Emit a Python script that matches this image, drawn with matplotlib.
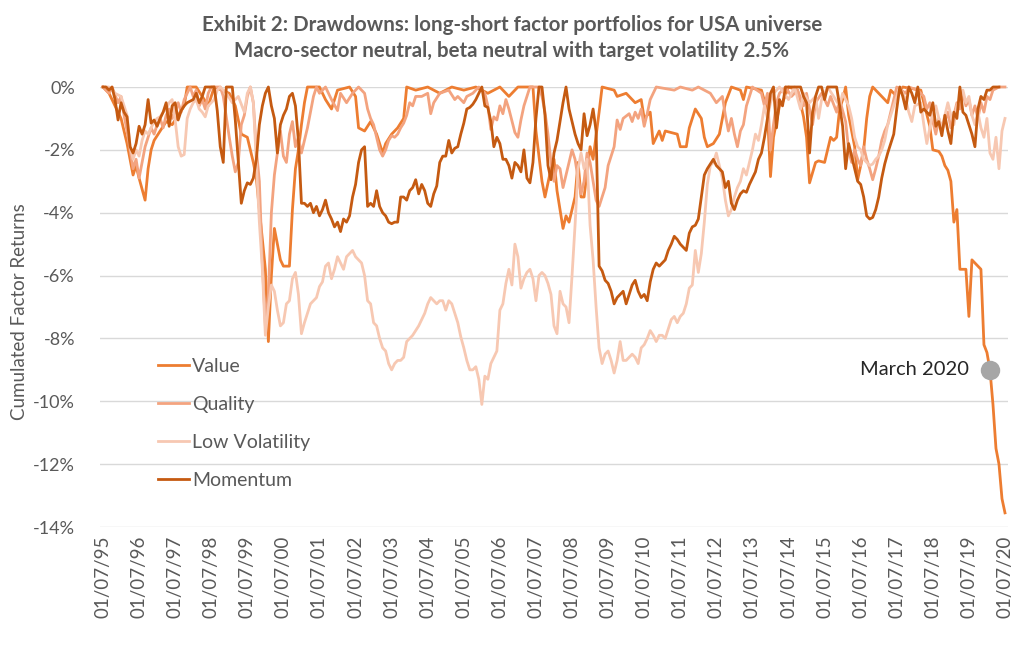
import matplotlib
matplotlib.use('Agg')
import matplotlib.pyplot as plt
import numpy as np

plt.rcParams['font.family'] = ['Lato', 'DejaVu Sans']

# months since 01/07/1995, drawdown in %
value_months = [0, 2, 4, 6, 8, 10, 11, 12, 14, 15, 16, 17, 19, 21, 23, 25, 27, 28, 31, 33, 35, 37,
                42, 44, 46, 48, 50, 51, 52, 54, 55, 56, 57, 59, 60, 62, 63, 64, 65, 66, 67, 68,
                72, 74, 76, 78, 82, 84, 85, 87, 89, 91, 93, 94, 96, 98, 100, 101, 104, 108, 112,
                116, 120, 124, 128, 132, 135, 138, 143, 144, 146, 147, 149, 150, 151, 153, 154,
                155, 157, 158, 159, 160, 162, 163, 165, 166, 170, 171, 174, 177, 179, 180, 182,
                183, 185, 186, 187, 189, 191, 192, 194, 195, 197, 199, 200, 201, 203, 205, 207,
                209, 212, 213, 214, 219, 221, 222, 223, 225, 226, 228, 231, 233, 234, 235, 237,
                238, 240, 241, 242, 243, 244, 245, 246, 247, 248, 250, 251, 252, 253, 254, 255,
                256, 259, 261, 262, 264, 266, 272, 273, 275, 276, 278, 279, 280, 281, 282, 283,
                284, 285, 287, 288, 289, 291, 292, 293, 294, 295, 296, 297, 298, 299, 300]
value_ret = [0, -0.2, -0.6, -1.0, -1.8, -2.8, -2.5, -2.9, -3.6, -2.6, -2.0, -1.7, -1.4, -1.1, -1.2,
             -0.9, -0.6, 0, 0, -0.3, -0.6, 0,
             -0.2, -0.6, -1.5, -1.6, -2.4, -2.9, -3.9, -5.8, -8.1, -6.0, -4.5, -5.5, -5.7, -5.7,
             -3.9, -2.6, -2.0, -1.2, -0.5, 0,
             0, -0.4, -0.7, -0.1, 0, -0.3, -1.3, -1.4, -1.1, -1.5, -2.1, -1.8, -1.5, -1.3, -1.0,
             0, -0.1, 0, -0.2,
             0, -0.1, 0, -0.2, 0, -0.3, 0, 0, -1.4, -3.0, -3.5, -2.6, -2.3, -3.3, -4.5, -4.1,
             -4.3, -3.5, -2.4, -3.5, -3.5, -1.9, -2.3, -0.8, 0, -0.1, -0.3, -0.2, -0.5, -0.4, -1.0, -0.8,
             -1.8, -1.4, -1.7, -1.4, -1.45, -1.5, -1.9, -1.9, -1.3, -0.7, -1.0, -1.6, -1.9, -1.8, -1.5, -0.5,
             0, -0.1, -0.4, 0, -0.1, -0.8, -2.85, -1.6, -0.6, -0.5, 0, -0.1, -0.95, -1.6, -3.05, -2.4,
             -2.35, -2.4, -2.0, -1.6, -1.7, -1.6, -0.7, -0.4, 0, -0.9, -1.9, -2.95, -2.5, -2.0, -1.0, -0.3,
             0, -0.3, -0.5, -0.1, -0.3, 0, -0.1, -0.5, -1.25, -2.0, -2.05, -2.2, -2.5, -2.65, -3.0, -4.3,
             -3.9, -5.8, -5.8, -7.3, -5.5, -5.7, -5.8, -8.2, -8.45, -9.0, -10.1, -11.5, -12.0, -13.1, -13.55]

quality_months = [0, 2, 3, 5, 6, 7, 8, 9, 10, 11, 12, 13, 14, 15, 16, 17, 18, 19, 20, 21, 22, 23,
                  24, 25, 26, 27, 28, 29, 30, 31, 32, 33, 34, 35, 36, 39, 40, 42, 43, 44, 45, 46,
                  47, 48, 49, 50, 51, 52, 53, 54, 55, 56, 57, 58, 59, 60, 61, 62, 63, 64, 65, 66,
                  67, 68, 69, 70, 71, 72, 74, 76, 78, 79, 81, 83, 85, 87, 88, 89, 90, 91, 92, 93,
                  94, 95, 96, 97, 98, 99, 100, 101, 102, 103, 104, 106, 108, 109, 110, 112, 115,
                  117, 118, 120, 121, 123, 125, 127, 128, 129, 130, 131, 132, 133, 134, 135, 137,
                  138, 139, 140, 142, 145, 146, 147, 148, 149, 150, 151, 152, 153, 154, 155, 156,
                  157, 158, 159, 160, 161, 162, 163, 164, 165, 166, 167, 168, 169, 170, 171, 172,
                  173, 175, 176, 177, 178, 179, 180, 181, 182, 184, 190, 192, 196, 198, 202, 204,
                  206, 207, 208, 209, 210, 211, 212, 213, 214, 215, 216, 219, 220, 221, 222, 223,
                  224, 225, 227, 229, 231, 233, 234, 236, 237, 239, 241, 242, 244, 245, 247, 248,
                  249, 250, 251, 252, 253, 254, 255, 256, 257, 258, 259, 260, 261, 262, 263, 264,
                  267, 268, 271, 273, 274, 275, 276, 277, 278, 279, 280, 281, 282, 283, 284, 285,
                  286, 287, 288, 289, 290, 291, 292, 293, 294, 295, 296, 298, 300]
quality_ret = [0, -0.2, 0, -0.5, -0.3, -0.9, -1.4, -2.0, -2.6, -2.3, -2.9, -2.4, -1.9, -1.6, -1.3,
               -1.5, -1.2, -1.0, -1.3, -0.9, -0.7, -1.0,
               -0.8, -0.5, -0.8, -0.4, -0.2, 0, -0.3, -0.1, -0.6, -0.4, -0.7, -0.2, 0, 0, -0.3, -1.6,
               -2.2, -2.7, -2.4, -1.2,
               -0.9, -0.3, 0, -0.5, -2.0, -3.0, -5.6, -7.6, -6.6, -4.0, -2.8, -2.1, -1.4, -2.2, -2.4,
               -1.5, -1.1, -1.9, -1.6, -2.1,
               -1.7, -1.3, -0.8, -0.3, 0, -0.2, 0, -0.4, -0.75, -0.2, -0.5, -0.2, 0, -0.2, -0.7, -1.0,
               -1.2, -1.6, -2.0, -2.2,
               -2.0, -1.7, -1.55, -1.6, -1.5, -1.3, -1.15, -0.9, -0.5, -0.6, -0.3, -0.3, -0.2, -0.85,
               -0.5, -0.2, -0.1,
               -0.4, -0.3, -0.5, -0.3, -0.2, 0, -0.2, -0.6, -1.35, -0.95, -1.05, -0.6, -0.85, -0.4,
               -0.7, -1.45,
               -1.6, -1.05, -0.6, 0, 0, -0.3, -0.8, -1.5, -2.4, -3.0, -2.5, -2.6, -3.2, -2.8, -2.4, -2.0,
               -2.3, -2.9, -3.4, -3.0, -2.1, -2.4, -3.0, -3.6, -3.8, -3.5, -3.2, -2.5, -2.2, -1.9, -1.05,
               -1.35,
               -1.0, -0.85, -1.1, -0.8, -1.0, -0.7, -1.25, -0.85, -0.4, 0, -0.1, 0, -0.1, 0, -0.2, -0.5,
               -0.3, -0.9, -1.4, -1.0, -1.5, -1.9, -1.4, -1.2, -0.6, -0.3, 0, -0.2, -0.6, -0.2, -2.0, -1.2,
               -0.5, -0.2, 0, -0.3, -0.1, -0.6, -0.2, -1.2, -0.5, -0.2, -0.6, -0.3, -0.8, -0.4, -1.1, -2.0,
               -2.4, -2.0, -2.3, -2.5, -1.9, -2.3, -2.6, -2.95, -2.6, -2.2, -1.7, -1.4, -1.2, -0.8, -0.4, 0,
               -0.2, 0, -0.1, -0.3, -0.7, -0.5, -1.1, -1.5, -1.0, -1.4, -1.1, -0.8, -1.3, -0.9, -0.5, -0.7,
               -0.2, -0.6, -0.4, -0.9, -0.6, -1.0, -0.5, -0.8, -0.3, -0.4, -0.1, 0, 0]

lowvol_months = [0, 2, 4, 6, 7, 8, 9, 10, 11, 12, 13, 14, 15, 16, 17, 18, 19, 20, 21, 22, 23, 24,
                 25, 26, 27, 28, 29, 30, 31, 32, 33, 34, 35, 36, 37, 38, 39, 41, 43, 45, 47, 48,
                 49, 50, 51, 52, 53, 54, 55, 56, 57, 58, 59, 60, 61, 62, 63, 64, 65, 66, 67, 68,
                 69, 70, 71, 72, 73, 74, 75, 76, 77, 78, 79, 80, 81, 82, 83, 84, 85, 86, 87, 88,
                 89, 90, 91, 92, 93, 94, 95, 96, 97, 98, 99, 100, 101, 102, 103, 104, 105, 106,
                 107, 108, 109, 110, 111, 112, 113, 114, 115, 116, 117, 118, 119, 120, 121, 122,
                 123, 124, 125, 126, 127, 128, 129, 130, 131, 132, 133, 134, 135, 136, 137, 138,
                 139, 140, 141, 142, 143, 144, 145, 146, 147, 148, 149, 150, 151, 152, 153, 154,
                 155, 156, 157, 158, 159, 160, 161, 162, 163, 164, 165, 166, 167, 168, 169, 170,
                 171, 172, 173, 174, 175, 176, 177, 178, 179, 180, 181, 182, 183, 184, 185, 186,
                 187, 188, 189, 190, 191, 192, 193, 194, 195, 196, 197, 198, 199, 200, 201, 202,
                 203, 204, 205, 206, 207, 208, 209, 210, 211, 212, 213, 214, 215, 216, 217, 218,
                 219, 220, 221, 222, 223, 225, 228, 230, 232, 233, 235, 237, 238, 239, 241, 243,
                 245, 246, 248, 249, 250, 251, 252, 253, 254, 255, 256, 257, 258, 259, 260, 261,
                 262, 263, 264, 265, 267, 268, 269, 270, 272, 273, 274, 275, 276, 277, 278, 279,
                 280, 281, 282, 283, 284, 285, 286, 287, 288, 289, 290, 291, 292, 293, 294, 295,
                 296, 297, 298, 299, 300]
lowvol_ret = [0, 0, -0.2, -0.3, -0.6, -0.9, -1.9, -2.3, -2.0, -2.2, -1.7, -1.4, -1.5, -1.3, -1.1,
              -1.0, -0.95, -0.8, -0.7, -0.5, -0.4, -1.05,
              -1.9, -2.2, -2.15, -1.0, -0.7, -0.5, -0.4, -0.7, -0.8, -0.95, -0.6, -0.5, -0.4, -0.1,
              0, -0.2, -0.5, -0.3, -0.8, -0.2,
              0, -0.5, -2.4, -4.3, -5.8, -7.9, -7.0, -6.3, -6.5, -7.1, -7.6, -7.5, -6.9, -6.8, -6.1,
              -5.9, -6.6, -7.85, -7.5, -7.2,
              -6.9, -6.8, -6.7, -6.35, -6.2, -5.7, -5.6, -6.1, -5.8, -5.4, -5.6, -5.8, -5.4, -5.3,
              -5.2, -5.4, -5.5, -5.6, -6.0, -6.8,
              -6.9, -7.5, -7.6, -8.0, -8.3, -8.4, -8.8, -9.0, -8.8, -8.7, -8.7, -8.6, -8.1, -8.0, -7.9,
              -7.75, -7.6, -7.4,
              -7.2, -6.9, -6.7, -6.8, -6.9, -6.8, -6.8, -7.1, -6.8, -6.9, -7.2, -7.5, -7.95, -8.3,
              -8.7, -9.0,
              -9.0, -8.9, -9.3, -10.1, -9.2, -9.3, -8.8, -8.6, -8.4, -7.1, -6.9, -6.25, -5.8, -6.3,
              -5.0, -5.4,
              -6.4, -6.1, -5.9, -5.8, -6.1, -6.8, -6.0, -5.9, -6.0, -6.25, -6.6, -7.6, -7.85, -6.5,
              -6.9, -7.0,
              -7.5, -6.0, -4.4, -2.6, -2.1, -2.6, -2.3, -4.4, -5.5, -7.0, -8.3, -8.8, -8.5, -8.4,
              -8.7, -9.1,
              -8.7, -8.1, -8.7, -8.7, -8.6, -8.5, -8.6, -8.8, -8.3, -8.2, -8.0, -7.75, -7.9, -8.1,
              -7.9, -7.9,
              -8.0, -7.7, -7.4, -7.3, -7.5, -7.3, -7.2, -6.9, -6.4, -6.3, -5.2, -5.9, -5.3, -4.3,
              -3.1, -2.5,
              -2.4, -2.1, -2.5, -2.9, -3.6, -4.1, -3.9, -3.5, -3.2, -3.0, -2.6, -2.8, -2.4, -2.0,
              -1.5, -1.7,
              -1.2, -0.6, -1.0, -0.5, -0.2, 0, -0.4, 0, -0.7, -0.2, -0.5, -0.3, -1.0, -0.4, 0, -0.3,
              -0.6, -0.2, -0.6, -1.0, -1.6, -1.9, -2.0, -2.3, -2.4, -2.5, -2.45, -2.3, -2.2, -2.0,
              -1.7, -1.2,
              -0.9, -0.6, -0.3, 0, -0.4, -0.8, -1.1, -0.6, -0.5, -1.2, -1.8, -1.3, -0.8, -0.6, -1.0,
              -1.3,
              -0.9, -0.5, -0.9, -1.2, -0.6, -0.4, -0.1, -0.5, -0.3, -0.9, -1.2, -0.8, -1.3, -1.6,
              -1.0, -2.1,
              -2.3, -1.6, -2.6, -1.4, -1.0]

momentum_ret = [0, 0, -0.1, 0, -0.4, -1.05, -0.5, -0.8, -0.95, -1.9, -2.1, -1.8, -1.25, -1.5, -1.2,
                -0.4, -1.15, -1.05, -1.25, -1.0, -0.8, -0.5, -1.25, -0.6, -0.5, -1.05, -0.75, -0.6,
                -0.5, -0.45, -0.4, -0.2, -0.5, -0.3, 0, 0, 0, 0, -0.75, -1.9, -2.4, 0, 0, 0, -1.05,
                -2.4, -3.7, -3.3, -3.05, -3.1, -2.9, -2.3, -1.2, -0.6, -0.2, 0, -0.6, -1.0, -2.1,
                -1.2, -0.9, -0.7, -0.3, -0.2, -0.6, -1.7, -3.7, -3.7, -3.8, -3.7, -4.0, -3.8, -4.1,
                -3.9, -3.6, -4.0, -4.2, -4.45, -4.3, -4.6, -4.2, -4.3, -4.1, -3.5, -3.1, -2.4, -2.0,
                -1.9, -3.8, -3.7, -3.8, -3.3, -3.8, -4.0, -4.1, -4.3, -4.35, -4.3, -4.3, -3.5, -3.5,
                -3.6, -3.3, -3.2, -2.95, -3.4, -3.1, -3.3, -3.7, -3.8, -3.4, -3.15, -2.4, -2.2, -2.2,
                -1.7, -2.1, -1.95, -1.9, -1.5, -1.15, -0.7, -0.65, -0.55, -0.4, -0.2, 0, -0.6, -0.65,
                -1.1, -1.9, -1.6, -1.8, -2.3, -2.3, -2.5, -2.9, -2.4, -2.5, -2.7, -2.0, -2.9, -3.05,
                -2.4, -1.0, 0, 0, -0.9, -2.5, -2.95, -2.1, -1.7, -1.1, -0.5, 0, -0.7, -1.1, -1.5,
                -1.8, -2.0, -0.85, -1.55, -1.2, -0.7, -1.4, -5.7, -5.85, -6.15, -6.25, -6.5, -6.9,
                -6.7, -6.6, -6.5, -6.9, -6.6, -6.3, -6.15, -6.5, -6.7, -6.6, -6.8, -6.2, -5.8, -5.6,
                -5.7, -5.6, -5.5, -5.2, -5.0, -4.75, -4.85, -5.0, -5.1, -5.2, -4.65, -4.45, -4.4,
                -4.2, -3.5, -2.8, -2.6, -2.45, -2.3, -2.5, -2.6, -2.7, -3.2, -3.0, -3.7, -3.9, -3.6,
                -3.4, -3.3, -3.35, -3.1, -2.9, -2.7, -2.3, -2.1, -1.6, -1.0, -0.2, 0, -1.3, -0.4,
                -0.6, 0, 0, 0, 0, 0, 0, -0.3, -0.5, -2.1, -0.8, -0.3, 0, 0, -0.4, 0, 0, 0, 0, -0.6,
                -1.25, -2.6, -1.8, -2.2, -2.6, -3.0, -3.1, -3.5, -4.1, -4.2, -4.15, -3.9, -3.5, -2.9,
                -2.45, -2.1, -1.8, -1.5, -0.7, 0, -0.3, -0.7, 0, -0.2, -0.5, 0, -0.8, -0.7, -0.8,
                -0.9, -0.5, -1.25, -1.1, -1.55, -0.9, -1.4, -1.8, -0.8, -1.0, 0, -0.8, -0.9, -1.2,
                -1.5, -1.9, -0.7, -0.3, -0.4, -0.1, -0.1, 0, 0, 0]
momentum_months = list(range(len(momentum_ret)))

tick_months = list(range(0, 301, 12))
tick_labels = ['01/07/%02d' % ((95 + i) % 100) for i in range(len(tick_months))]
y_ticks = [0, -2, -4, -6, -8, -10, -12, -14]

marker_month = 295
marker_label = 'March 2020'

c_value = '#ED7D31'
c_quality = '#F3A37F'
c_lowvol = '#F7C8B2'
c_momentum = '#C55A11'
txt_grey = '#595959'

fig = plt.figure(figsize=(10.24, 6.66), dpi=100)
ax = fig.add_axes([100 / 1024, 1 - 527 / 666, 908 / 1024, 440 / 666])

lw = 2.0
ax.plot(value_months, value_ret, color=c_value, lw=lw, label='Value', clip_on=False, zorder=3)
ax.plot(quality_months, quality_ret, color=c_quality, lw=lw, label='Quality', clip_on=False, zorder=3)
ax.plot(lowvol_months, lowvol_ret, color=c_lowvol, lw=lw, label='Low Volatility', clip_on=False, zorder=3)
ax.plot(momentum_months, momentum_ret, color=c_momentum, lw=lw, label='Momentum', clip_on=False, zorder=3)

mv = value_ret[value_months.index(marker_month)]
ax.plot([marker_month], [mv], 'o', ms=14, color='#A6A6A6', mec='none', zorder=5, clip_on=False)
ax.annotate(marker_label, xy=(marker_month, mv), xytext=(-15, 0), textcoords='offset points',
            ha='right', va='center', fontsize=14.5, color='#262626')

ax.set_xlim(-1, 301)
ax.set_ylim(-14, 0)
ax.set_yticks(y_ticks)
ax.set_yticklabels([f'{t}%' for t in y_ticks])
ax.set_xticks(tick_months)
ax.set_xticklabels(tick_labels, rotation=90)
ax.tick_params(axis='y', length=0, pad=18, labelsize=13, labelcolor=txt_grey)
ax.tick_params(axis='x', length=0, pad=6, labelsize=13.5, labelcolor=txt_grey)
ax.yaxis.grid(True, color='#D9D9D9', lw=1)
ax.set_axisbelow(True)
for s in ax.spines.values():
    s.set_visible(False)

fig.text(20 / 1024, 1 - 312 / 666, 'Cumulated Factor Returns', rotation=90, ha='center', va='center',
         fontsize=13.5, color=txt_grey)

fig.text(0.5, 1 - 25 / 666, 'Exhibit 2: Drawdowns: long-short factor portfolios for USA universe',
         ha='center', va='center', fontsize=14.8, fontweight='bold', color=txt_grey)
fig.text(0.5, 1 - 51 / 666, 'Macro-sector neutral, beta neutral with target volatility 2.5%',
         ha='center', va='center', fontsize=14.8, fontweight='bold', color=txt_grey)

fig.legend(loc='upper left', bbox_to_anchor=(150 / 1024, 1 - 350 / 666), frameon=False,
           fontsize=14, labelcolor=txt_grey, handlelength=1.6, handletextpad=0.15,
           labelspacing=1.08, borderaxespad=0)

fig.savefig('out.png', dpi=100)
